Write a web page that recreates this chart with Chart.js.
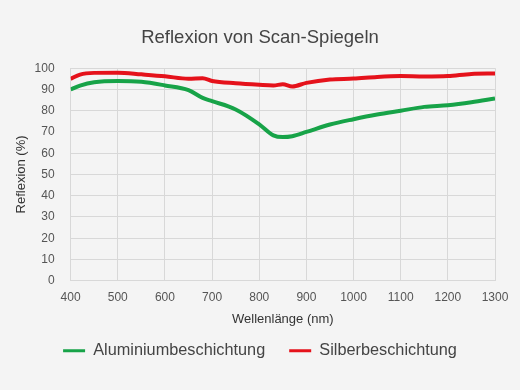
<!DOCTYPE html>
<html>
<head>
<meta charset="utf-8">
<script src="https://cdn.jsdelivr.net/npm/chart.js@4"></script>
<style>
  html, body { margin: 0; padding: 0; background: #f4f4f4; }
  #wrap { width: 520px; height: 390px; position: relative; }
</style>
</head>
<body>
<div id="wrap"><canvas id="chart-reflexion"></canvas></div>
<script>
// wavelengths in nm
const wavelengths = [400, 420, 450, 500, 550, 600, 650, 680, 700, 750, 800, 830, 850, 870, 900, 950, 1000, 1050, 1100, 1150, 1200, 1250, 1300];
const aluminium   = [90, 91.8, 93.4, 94, 93.6, 91.9, 89.7, 86, 84.5, 80.6, 73.6, 68.4, 67.6, 68, 70, 73.5, 76, 78.2, 80, 81.8, 82.6, 84, 85.8];
const silber      = [95, 97, 97.8, 97.9, 97.1, 96.2, 95, 95.3, 94, 92.9, 92.2, 91.9, 92.4, 91.4, 93.1, 94.7, 95.1, 95.9, 96.3, 96.1, 96.3, 97.3, 97.5];
const xTicks = [400, 500, 600, 700, 800, 900, 1000, 1100, 1200, 1300];

const FONT = "'Liberation Sans', Arial, Helvetica, sans-serif";

function toPoints(values) {
  return wavelengths.map((w, i) => ({ x: w, y: values[i] }));
}

const chart = new Chart(document.getElementById("chart-reflexion").getContext("2d"), {
  type: "line",
  data: {
    datasets: [
      {
        label: "Aluminiumbeschichtung",
        data: toPoints(aluminium),
        borderColor: "#17a348",
        backgroundColor: "#17a348",
        borderWidth: 4,
        pointRadius: 0,
        cubicInterpolationMode: "monotone",
      },
      {
        label: "Silberbeschichtung",
        data: toPoints(silber),
        borderColor: "#e5121b",
        backgroundColor: "#e5121b",
        borderWidth: 4,
        pointRadius: 0,
        cubicInterpolationMode: "monotone",
      },
    ],
  },
  options: {
    responsive: true,
    maintainAspectRatio: false,
    animation: false,
    layout: { padding: { left: 14, right: 14, top: 18, bottom: 21 } },
    plugins: {
      title: {
        display: true,
        text: "Reflexion von Scan-Spiegeln",
        color: "#444",
        font: { family: FONT, size: 18.5, weight: "normal" },
        padding: { top: 9, bottom: 19 },
      },
      legend: {
        position: "bottom",
        labels: {
          color: "#444",
          font: { family: FONT, size: 16.3 },
          boxWidth: 22,
          boxHeight: 3,
          padding: 24,
          generateLabels: (c) =>
            Chart.defaults.plugins.legend.labels.generateLabels(c).map((l) => ({ ...l, lineWidth: 0 })),
        },
      },
      tooltip: { enabled: false },
    },
    scales: {
      x: {
        type: "linear",
        min: 400,
        max: 1300,
        afterBuildTicks: (axis) => { axis.ticks = xTicks.map((v) => ({ value: v })); },
        grid: { color: "#d8d8d8", drawTicks: false },
        border: { color: "#d8d8d8" },
        ticks: {
          color: "#555",
          font: { family: FONT, size: 12 },
          padding: 10,
          callback: (v) => String(v),
        },
        title: {
          display: true,
          text: "Wellenlänge (nm)",
          color: "#333",
          font: { family: FONT, size: 13 },
          padding: { top: -3, bottom: -9 },
        },
      },
      y: {
        min: 0,
        max: 100,
        grid: { color: "#d8d8d8", drawTicks: false },
        border: { color: "#d8d8d8" },
        ticks: { stepSize: 10, color: "#555", font: { family: FONT, size: 12 }, padding: 16 },
        title: {
          display: true,
          text: "Reflexion (%)",
          color: "#333",
          font: { family: FONT, size: 13 },
          padding: { top: 0, bottom: -11 },
        },
      },
      // empty spacer on the right so the plot ends where the original does
      spacer: {
        position: "right",
        grid: { display: false },
        border: { display: false },
        ticks: { display: false },
        afterFit: (s) => { s.width = 11; },
      },
    },
  },
});
</script>
</body>
</html>
